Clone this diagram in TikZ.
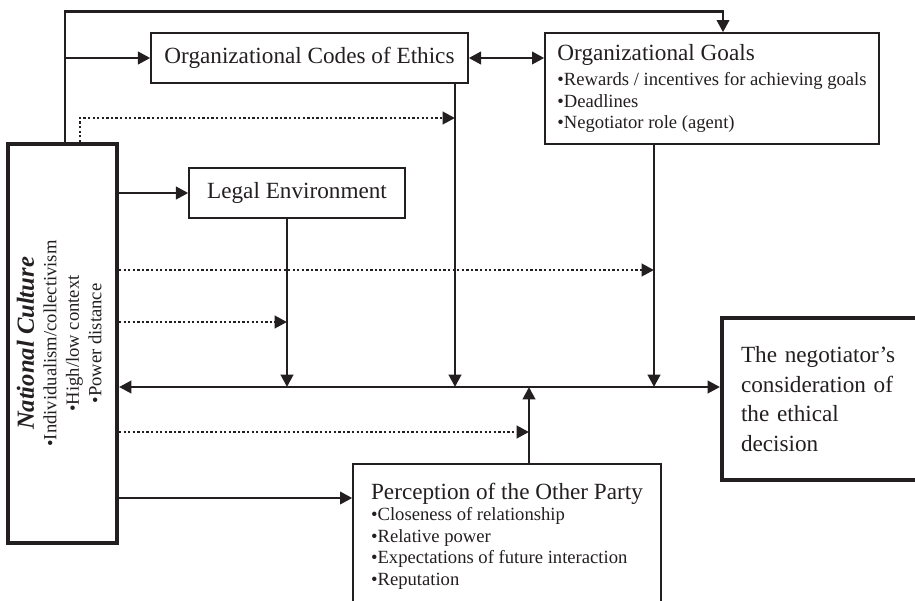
\documentclass[tikz,border=0pt]{standalone}
\usepackage{fontspec}
\setmainfont{Liberation Serif}
\usetikzlibrary{arrows.meta, positioning}
\definecolor{ink}{RGB}{35,31,32}
\newcommand{\ttl}{\fontsize{13.2}{15}\selectfont}
\newcommand{\itm}{\fontsize{10.6}{12.2}\selectfont}

\begin{document}
\begin{tikzpicture}[on grid, color=ink,
    box/.style={draw=ink, line width=0.8pt, rectangle, inner sep=0pt},
    heavy/.style={draw=ink, line width=2.3pt, rectangle, inner sep=0pt},
    link/.style={line width=1.6pt, -{Triangle[length=7pt,width=7pt]}},
    both/.style={line width=1.6pt, {Triangle[length=7pt,width=7pt]}-{Triangle[length=7pt,width=7pt]}},
    hint/.style={line width=1.6pt, dash pattern=on 1.3pt off 1.3pt, -{Triangle[length=7pt,width=7pt]}}]
  \useasboundingbox (0,0) rectangle (18.3,-12);

  \node[heavy, minimum width=2.18cm, minimum height=7.98cm] (cult) at (1.25,-6.87)
    {\rotatebox{90}{\fontsize{10.6}{12.8}\selectfont\begin{tabular}{@{}c@{}}{\fontsize{14}{15}\selectfont\bfseries\itshape National Culture}\\
     \textbullet Individualism/collectivism\\ \textbullet High/low context\\ \textbullet Power distance\end{tabular}}};
  \node[box, minimum width=6.34cm, minimum height=1cm, font=\ttl] (codes) [above right=5.71cm and 4.94cm of cult] {Organizational Codes of Ethics};
  \node[box, minimum width=6.68cm, minimum height=2.22cm, align=left, font=\itm] (goals) [below right=0.61cm and 8.05cm of codes]
    {{\ttl Organizational Goals}\\[2pt] \textbullet Rewards / incentives for achieving goals\\ \textbullet Deadlines\\ \textbullet Negotiator role (agent)};
  \node[box, minimum width=4.32cm, minimum height=1cm, font=\ttl] (legal) [below left=2.7cm and 0.25cm of codes] {Legal Environment};
  \node[heavy, minimum width=4.36cm, minimum height=3.24cm, inner xsep=0.38cm, text width=3.6cm, align=left,
    font=\fontsize{13.2}{17}\selectfont] (dec) [below right=6.21cm and 2.38cm of goals]
    {The negotiator’s\\ consideration of\\ the ethical\\ decision};
  \node[box, minimum width=6.16cm, minimum height=2.88cm, align=left, font=\itm] (perc) [below right=3.85cm and 8.89cm of cult]
    {{\ttl Perception of the Other Party}\\ \textbullet Closeness of relationship\\ \textbullet Relative power\\
     \textbullet Expectations of future interaction\\ \textbullet Reputation};

  \coordinate (trunk) at ([xshift=0.05cm]cult.north);
  \coordinate (hub) at (0,-7.74);
  \coordinate (gin) at ([xshift=0.22cm]goals.north);
  \coordinate (cdrop) at ([xshift=2.91cm]codes.south);
  \coordinate (ldrop) at ([xshift=-0.2cm]legal.south);
  \coordinate (gdrop) at ([xshift=-1.16cm]goals.south);
  \coordinate (prise) at ([xshift=0.44cm]perc.north);

  \draw[link] (trunk) |- ([yshift=0.42cm]gin) -- (gin);
  \draw[link] (trunk |- codes.west) -- (codes.west);
  \draw[both] (codes.east) -- (codes.east -| goals.west);
  \draw[link] (cult.east |- legal.west) -- (legal.west);
  \draw[link] (cult.east |- 0,-9.96) -- (perc.west |- 0,-9.96);
  \draw[both] (cult.east |- hub) -- (dec.west |- hub);
  \draw[link] (ldrop) -- (ldrop |- hub);
  \draw[link] (cdrop) -- (cdrop |- hub);
  \draw[link] (gdrop) -- (gdrop |- hub);
  \draw[link] (prise) -- (prise |- hub);
  \draw[hint] ([xshift=0.35cm]cult.north) |- (cdrop |- 0,-2.36);
  \draw[hint] (cult.east |- 0,-5.4) -- (gdrop |- 0,-5.4);
  \draw[hint] (cult.east |- 0,-6.44) -- (ldrop |- 0,-6.44);
  \draw[hint] (cult.east |- 0,-8.64) -- (prise |- 0,-8.64);
\end{tikzpicture}
\end{document}
